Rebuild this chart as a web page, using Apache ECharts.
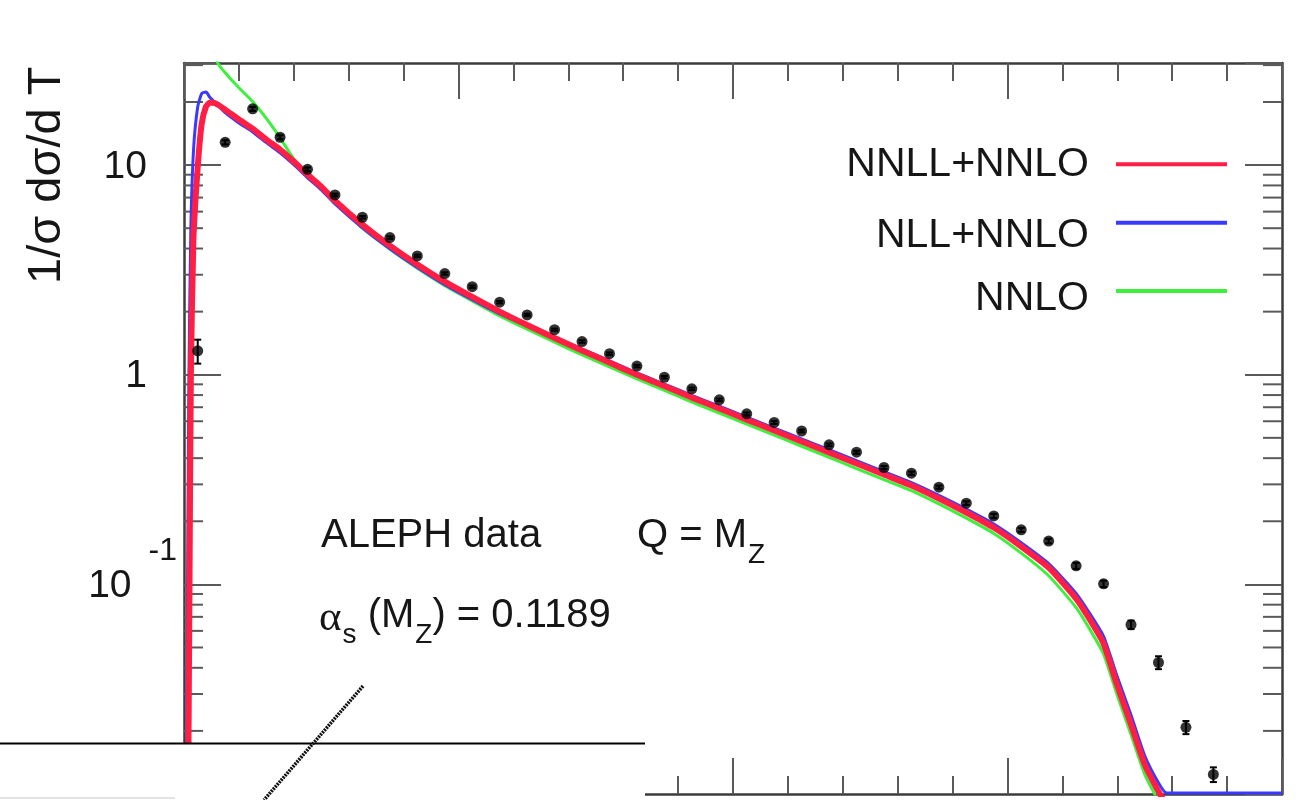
<!DOCTYPE html>
<html>
<head>
<meta charset="utf-8">
<script src="https://cdn.jsdelivr.net/npm/echarts@6/dist/echarts.min.js"></script>
<style>html,body{margin:0;padding:0;background:#fff}#c{width:1299px;height:800px}</style>
</head>
<body>
<div id="c"></div>
<script>
// ---------- axes ----------
const xRange = [0, 0.4];
const xMajorStep = 0.1;
const yRange = [0.01, 30.7];
const yMajorTicks = [0.01, 0.1, 1, 10];
const yMinorMultipliers = [2, 3, 4, 5, 6, 7, 8, 9];

// ---------- ALEPH data (1-T bin centres, 1/sigma dsigma/dT, error) ----------
const dataT = [0.005, 0.015, 0.025, 0.035, 0.045, 0.055, 0.065, 0.075, 0.085, 0.095,
  0.105, 0.115, 0.125, 0.135, 0.145, 0.155, 0.165, 0.175, 0.185, 0.195,
  0.205, 0.215, 0.225, 0.235, 0.245, 0.255, 0.265, 0.275, 0.285, 0.295,
  0.305, 0.315, 0.325, 0.335, 0.345, 0.355, 0.365, 0.375];
const dataY = [1.30, 12.85, 18.55, 13.58, 9.55, 7.21, 5.64, 4.51, 3.69, 3.04,
  2.63, 2.22, 1.93, 1.64, 1.44, 1.26, 1.10, 0.973, 0.857, 0.759,
  0.651, 0.592, 0.539, 0.463, 0.427, 0.361, 0.339, 0.291, 0.244, 0.212,
  0.182, 0.161, 0.1226, 0.1006, 0.0642, 0.0424, 0.0208, 0.0124];
const dataErr = [0.17, 0.3, 0.4, 0.3, 0.2, 0.1, 0.08, 0.06, 0.05, 0.04,
  0.035, 0.03, 0.025, 0.02, 0.02, 0.017, 0.015, 0.013, 0.012, 0.011,
  0.01, 0.009, 0.008, 0.007, 0.007, 0.006, 0.006, 0.005, 0.005, 0.005,
  0.004, 0.004, 0.004, 0.0035, 0.003, 0.003, 0.0015, 0.001];

// ---------- theory curves ----------
const midT = [0.065, 0.075, 0.085, 0.095, 0.105, 0.115, 0.125, 0.135, 0.145, 0.155,
  0.165, 0.175, 0.185, 0.195, 0.205, 0.215, 0.225, 0.235, 0.245, 0.255,
  0.265, 0.275, 0.285, 0.295, 0.305, 0.315, 0.325];

const nnllT = [0.0015, 0.0020, 0.0025, 0.0034, 0.0048, 0.0064, 0.0080, 0.0095, 0.0115, 0.015,
  0.02, 0.025, 0.03, 0.035, 0.04, 0.045, 0.05, 0.055].concat(midT,
  [0.330, 0.335, 0.340, 0.345, 0.350, 0.355, 0.357]);
const nnllY = [0.009, 0.1, 1.0, 4.3, 9.0, 15.6, 19.0, 19.9, 19.7, 18.4,
  16.5, 14.94, 13.24, 11.87, 10.40, 9.02, 7.90, 6.77,
  5.20, 4.13, 3.36, 2.78, 2.35, 2.00, 1.726, 1.497, 1.304, 1.143,
  1.00, 0.883, 0.778, 0.690, 0.611, 0.542, 0.480, 0.4255, 0.377, 0.334,
  0.296, 0.2567, 0.2202, 0.1867, 0.1516, 0.1203, 0.0856,
  0.0680, 0.0522, 0.0329, 0.02146, 0.01382, 0.01028, 0.0093];

const nllT = [0.0010, 0.0013, 0.0018, 0.0025, 0.0035, 0.0050, 0.0065, 0.0080, 0.0095, 0.012,
  0.015, 0.02, 0.025, 0.03, 0.035, 0.04, 0.045, 0.05, 0.055].concat(midT,
  [0.330, 0.335, 0.340, 0.345, 0.350, 0.355, 0.358, 0.370, 0.400]);
const nllY = [0.009, 0.1, 1.0, 5.0, 12.0, 19.0, 22.0, 22.3, 21.0, 19.5,
  17.8, 15.9, 14.4, 12.8, 11.45, 10.05, 8.7, 7.62, 6.53,
  5.02, 3.99, 3.25, 2.69, 2.28, 1.95, 1.71, 1.51, 1.325, 1.165,
  1.02, 0.903, 0.797, 0.708, 0.628, 0.557, 0.494, 0.439, 0.389, 0.345,
  0.306, 0.266, 0.2285, 0.194, 0.158, 0.1255, 0.0905,
  0.0725, 0.0565, 0.0362, 0.0238, 0.0152, 0.0113, 0.0101, 0.0101, 0.0101];

const nnloT = [0.0070, 0.0100, 0.0124, 0.015, 0.02, 0.025, 0.03, 0.035, 0.04, 0.045,
  0.05, 0.055].concat(midT, [0.330, 0.335, 0.340, 0.345, 0.350, 0.354]);
const nnloY = [55, 38, 30.5, 27.6, 23.4, 20.1, 16.7, 13.5, 10.7, 9.1,
  7.9, 6.75,
  5.0, 3.97, 3.22, 2.66, 2.25, 1.91, 1.65, 1.43, 1.245, 1.09,
  0.955, 0.842, 0.741, 0.657, 0.581, 0.515, 0.456, 0.404, 0.357, 0.316,
  0.280, 0.242, 0.207, 0.175, 0.141, 0.110, 0.0775,
  0.061, 0.0465, 0.0295, 0.0192, 0.0124, 0.0098];

const seriesNames = ['NNLL+NNLO', 'NLL+NNLO', 'NNLO'];
const seriesColors = ['#ff1f44', '#3a3aff', '#3cf03c'];

// ---------- styling ----------
const FONT = 'Liberation Sans, Arial, Helvetica, sans-serif';
const frameColor = '#3c3c3c';
const tickColor = '#5a5a5a';
const txt = '#161616';

const zip = (a, b) => a.map((v, i) => [v, b[i]]);

const minorTickVals = [];
yMajorTicks.forEach(d => yMinorMultipliers.forEach(m => {
  const v = +(d * m).toPrecision(6);
  if (v > yRange[0] && v < yRange[1]) minorTickVals.push(v);
}));

function yLabel(v) {
  const L = Math.log10(v);
  if (Math.abs(L - 1) < 1e-6) return '{n|10}';
  if (Math.abs(L) < 1e-6) return '{n|1}';
  if (Math.abs(L + 1) < 1e-6) return '{m|10}{e|-1}';
  return '';
}

const chart = echarts.init(document.getElementById('c'), null, {renderer: 'canvas'});

const xAxisBase = {
  type: 'value', min: xRange[0], max: xRange[1], interval: xMajorStep,
  axisLine: {show: true, onZero: false, lineStyle: {color: frameColor, width: 2.5}},
  axisTick: {show: true, inside: true, length: 36, lineStyle: {color: tickColor, width: 2}},
  minorTick: {show: true, splitNumber: 5, length: 18, lineStyle: {color: tickColor, width: 2}},
  axisLabel: {show: false}, splitLine: {show: false}, minorSplitLine: {show: false}
};
const yAxisBase = {
  type: 'log', logBase: 10, min: yRange[0], max: yRange[1],
  axisLine: {show: true, onZero: false, lineStyle: {color: frameColor, width: 2.5}},
  axisTick: {show: true, inside: true, length: 37, lineStyle: {color: tickColor, width: 2}},
  minorTick: {show: false}, splitLine: {show: false}
};

// legend rows: line centre y and downward text offset padding (px)
const legendLineY = [164.3, 222.7, 291];
const legendTextPad = [0, 26, 16];

const option = {
  animation: false,
  backgroundColor: '#ffffff',
  grid: {left: 184, right: 17, top: 63, bottom: 6, containLabel: false, outerBoundsMode: 'none'},
  xAxis: [
    Object.assign({}, xAxisBase, {position: 'bottom'}),
    Object.assign({}, xAxisBase, {position: 'top'})
  ],
  yAxis: [
    Object.assign({}, yAxisBase, {
      position: 'left',
      axisLabel: {
        show: true, margin: 7, formatter: yLabel, color: txt, fontFamily: FONT, fontSize: 39,
        rich: {
          n: {fontFamily: FONT, fontSize: 39, color: txt, padding: [4, 30, 0, 0]},
          m: {fontFamily: FONT, fontSize: 39, color: txt, padding: [4, 17, 0, 0]},
          e: {fontFamily: FONT, fontSize: 32, color: txt, padding: [0, 0, 66, 0]}
        }
      }
    }),
    Object.assign({}, yAxisBase, {position: 'right', axisLabel: {show: false}})
  ],
  legend: seriesNames.map((n, i) => ({
    data: [n], orient: 'vertical', right: 72, align: 'right', padding: 0,
    itemWidth: 111, itemHeight: 4, icon: 'rect', selectedMode: false,
    top: legendLineY[i] - (41 + legendTextPad[i]) / 2,
    formatter: '{t|{name}}',
    textStyle: {fontFamily: FONT, fontSize: 41, color: txt,
      rich: {t: {fontFamily: FONT, fontSize: 41, color: txt, lineHeight: 41,
        padding: [legendTextPad[i], 22, 0, 0]}}}
  })),
  series: [
    {
      type: 'custom', name: 'minorTicks', silent: true, z: 3, clip: false,
      data: minorTickVals.map(v => [xRange[0], v]),
      renderItem: (p, api) => {
        const v = api.value(1);
        const a = api.coord([xRange[0], v]);
        const b = api.coord([xRange[1], v]);
        const st = {stroke: tickColor, lineWidth: 2};
        return {type: 'group', children: [
          {type: 'line', shape: {x1: a[0], y1: a[1], x2: a[0] + 19, y2: a[1]}, style: st},
          {type: 'line', shape: {x1: b[0] - 19, y1: b[1], x2: b[0], y2: b[1]}, style: st}
        ]};
      }
    },
    {
      type: 'line', name: seriesNames[2], data: zip(nnloT, nnloY), showSymbol: false, smooth: 0.2,
      lineStyle: {color: seriesColors[2], width: 3}, itemStyle: {color: seriesColors[2]}, z: 4
    },
    {
      type: 'line', name: seriesNames[1], data: zip(nllT, nllY), showSymbol: false, smooth: 0.2,
      lineStyle: {color: seriesColors[1], width: 3}, itemStyle: {color: seriesColors[1]}, z: 5
    },
    {
      type: 'line', name: seriesNames[0], data: zip(nnllT, nnllY), showSymbol: false, smooth: 0.2,
      lineStyle: {color: seriesColors[0], width: 6}, itemStyle: {color: seriesColors[0]}, z: 6
    },
    {
      type: 'custom', name: 'ALEPH errors', silent: true, z: 7,
      data: dataT.map((t, i) => [t, dataY[i] - dataErr[i], dataY[i] + dataErr[i]]),
      renderItem: (p, api) => {
        const lo = api.coord([api.value(0), api.value(1)]);
        const hi = api.coord([api.value(0), api.value(2)]);
        const st = {stroke: '#000', lineWidth: 2};
        return {type: 'group', children: [
          {type: 'line', shape: {x1: lo[0], y1: lo[1], x2: hi[0], y2: hi[1]}, style: st},
          {type: 'line', shape: {x1: lo[0] - 3.5, y1: lo[1], x2: lo[0] + 3.5, y2: lo[1]}, style: st},
          {type: 'line', shape: {x1: hi[0] - 3.5, y1: hi[1], x2: hi[0] + 3.5, y2: hi[1]}, style: st}
        ]};
      }
    },
    {
      type: 'scatter', name: 'ALEPH data', data: zip(dataT, dataY), symbol: 'circle', symbolSize: 11,
      itemStyle: {color: '#000'}, z: 8
    }
  ],
  graphic: [
    {type: 'text', x: 47, y: 284, rotation: Math.PI / 2, z: 50,
      style: {text: '1/σ dσ/d T', fontFamily: FONT, fontSize: 47, fill: txt, align: 'left', verticalAlign: 'middle'}},
    {type: 'text', x: 321, y: 536, z: 50,
      style: {text: 'ALEPH data', fontFamily: FONT, fontSize: 40, fill: txt, align: 'left', verticalAlign: 'middle'}},
    {type: 'text', x: 637, y: 536, z: 50,
      style: {text: '{n|Q = M}{z|Z}', fill: txt, align: 'left', verticalAlign: 'middle',
        rich: {n: {fontFamily: FONT, fontSize: 40, fill: txt},
               z: {fontFamily: FONT, fontSize: 28, fill: txt, padding: [38, 0, 0, 1]}}}},
    {type: 'text', x: 319, y: 616, z: 50,
      style: {text: '{a|α}{s|s}{n| (M}{z|Z}{n|) = 0.1189}', fill: txt, align: 'left', verticalAlign: 'middle',
        rich: {a: {fontFamily: 'Liberation Serif, DejaVu Serif, serif', fontSize: 43, fill: txt, padding: [6, 0, 0, 0]},
               s: {fontFamily: FONT, fontSize: 28, fill: txt, padding: [38, 0, 0, 1]},
               n: {fontFamily: FONT, fontSize: 40, fill: txt},
               z: {fontFamily: FONT, fontSize: 28, fill: txt, padding: [38, 0, 0, 1]}}}},
    // overlay that covers the lower-left part of the picture
    {type: 'rect', z: 100, shape: {x: 0, y: 744, width: 645, height: 56}, style: {fill: '#ffffff'}},
    {type: 'line', z: 101, shape: {x1: 0, y1: 743.5, x2: 645, y2: 743.5}, style: {stroke: '#000', lineWidth: 2}},
    {type: 'line', z: 101, shape: {x1: 0, y1: 798, x2: 175, y2: 798}, style: {stroke: '#d8d8d8', lineWidth: 1.5}},
    {type: 'line', z: 102, shape: {x1: 363, y1: 686, x2: 264, y2: 800}, style: {stroke: '#111', lineWidth: 3.5, lineDash: [2, 1]}}
  ]
};

chart.setOption(option);
</script>
</body>
</html>
